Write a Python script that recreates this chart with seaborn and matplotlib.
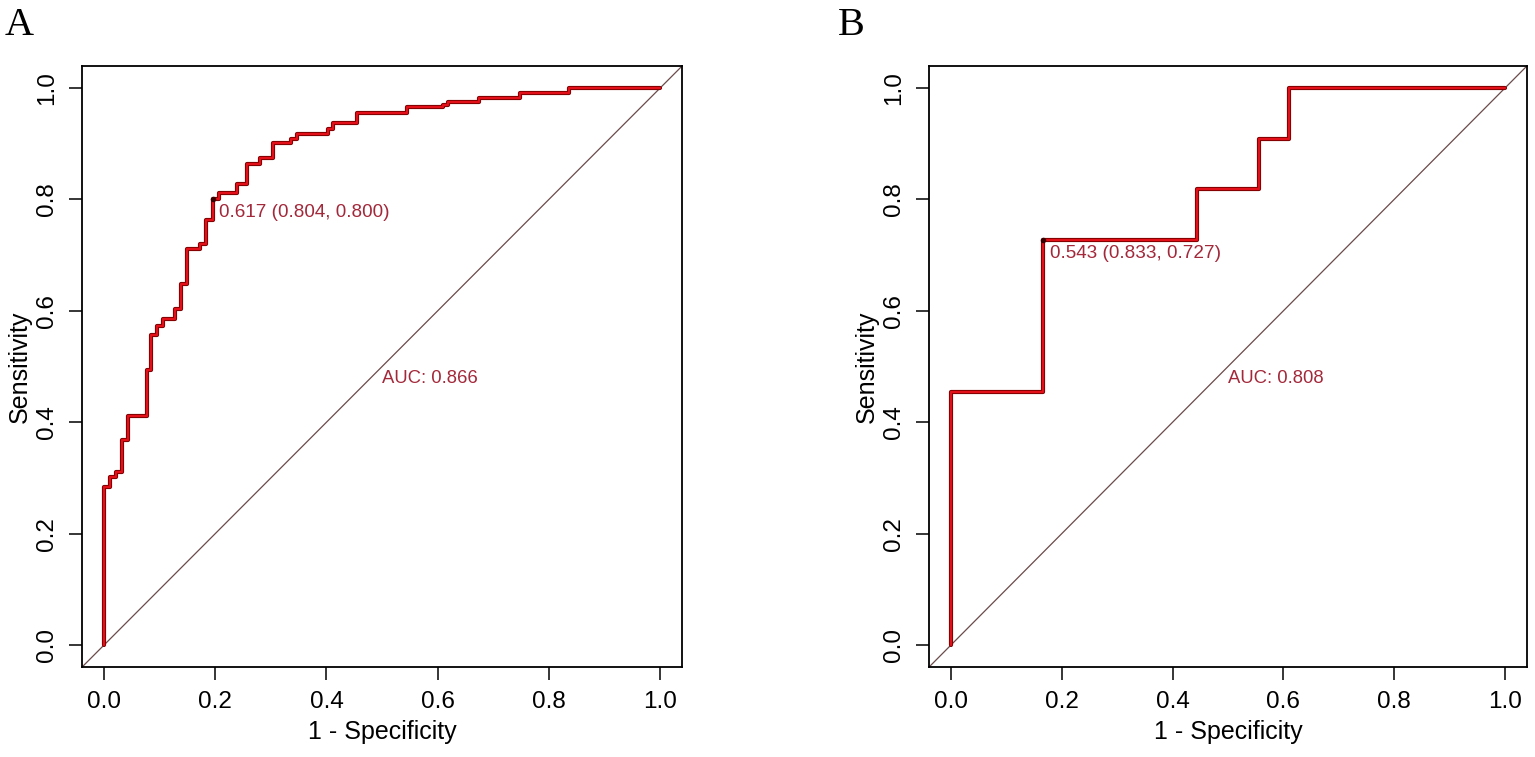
import matplotlib
matplotlib.use("Agg")
import matplotlib.pyplot as plt
import seaborn as sns
import pandas as pd

# =========================
# DATA
# =========================

# panel A: ROC staircase vertices (1 - specificity, sensitivity)
fpr_a = [0.0, 0.0, 0.010, 0.021, 0.032, 0.043, 0.077, 0.084, 0.095, 0.106,
         0.128, 0.139, 0.149, 0.173, 0.183, 0.196, 0.206, 0.239, 0.258, 0.280,
         0.303, 0.336, 0.347, 0.402, 0.411, 0.455, 0.544, 0.610, 0.619, 0.674,
         0.748, 0.836, 1.0]
tpr_a = [0.0, 0.283, 0.302, 0.310, 0.368, 0.411, 0.493, 0.557, 0.572, 0.585,
         0.603, 0.648, 0.711, 0.720, 0.764, 0.800, 0.811, 0.828, 0.863, 0.875,
         0.902, 0.908, 0.918, 0.926, 0.938, 0.955, 0.966, 0.970, 0.975, 0.983,
         0.992, 1.0, 1.0]
thr_a = (0.196, 0.800)
thr_label_a = "0.617 (0.804, 0.800)"
auc_label_a = "AUC: 0.866"

# panel B
fpr_b = [0.0, 0.0, 0.167, 0.444, 0.556, 0.611, 1.0]
tpr_b = [0.0, 0.455, 0.727, 0.818, 0.909, 1.0, 1.0]
thr_b = (0.167, 0.727)
thr_label_b = "0.543 (0.833, 0.727)"
auc_label_b = "AUC: 0.808"

ticks = [0.0, 0.2, 0.4, 0.6, 0.8, 1.0]
tick_labels = ["0.0", "0.2", "0.4", "0.6", "0.8", "1.0"]

# =========================
# STYLE
# =========================
sns.set_theme(style="white")
plt.rcParams['font.family'] = ['Liberation Sans', 'DejaVu Sans']

text_col = "#a3283a"
line_dark = "#7a0000"
line_red = "#e3101a"
diag_col = "#6b4a4a"

fig = plt.figure(figsize=(15.35, 7.57), dpi=100)
W, H = 1535, 757
axA = fig.add_axes([81.8 / W, 89.7 / H, 600.5 / W, 601.5 / H])
axB = fig.add_axes([928.8 / W, 89.7 / H, 598.3 / W, 601.5 / H])


def roc_panel(ax, fpr, tpr, thr, thr_label, auc_label):
    df = pd.DataFrame({"fpr": fpr, "tpr": tpr})
    ax.axline((0, 0), (1, 1), color=diag_col, lw=0.9, zorder=1)
    # dark underlay then red line on top
    sns.lineplot(data=df, x="fpr", y="tpr", sort=False, estimator=None,
                 drawstyle="steps-post", color=line_dark, lw=3.0, ax=ax, zorder=2)
    sns.lineplot(data=df, x="fpr", y="tpr", sort=False, estimator=None,
                 drawstyle="steps-post", color=line_red, lw=1.6, ax=ax, zorder=3)
    ax.plot([thr[0]], [thr[1]], "o", ms=3.0, color="#3a0000", zorder=4)
    ax.text(thr[0] + 0.011, thr[1] - 0.024, thr_label, ha="left", va="center",
            color=text_col, fontsize=13.6)
    ax.text(0.5, 0.479, auc_label, ha="left", va="center",
            color=text_col, fontsize=13.3)

    ax.set_xlim(-0.04, 1.04)
    ax.set_ylim(-0.04, 1.04)
    ax.set_xticks(ticks)
    ax.set_xticklabels(tick_labels)
    ax.set_yticks(ticks)
    ax.set_yticklabels(tick_labels, rotation=90, va="center")
    ax.tick_params(axis="both", direction="out", length=9.4, width=1.1,
                   color="black", labelsize=17.5, labelcolor="black",
                   bottom=True, left=True)
    ax.tick_params(axis="x", pad=7.5)
    ax.tick_params(axis="y", pad=8)
    for s in ax.spines.values():
        s.set_visible(True)
        s.set_color("black")
        s.set_linewidth(1.3)
    ax.set_xlabel("1 - Specificity", fontsize=18, color="black", labelpad=5)
    ax.set_ylabel("Sensitivity", fontsize=18, color="black", labelpad=3)
    ax.grid(False)


roc_panel(axA, fpr_a, tpr_a, thr_a, thr_label_a, auc_label_a)
roc_panel(axB, fpr_b, tpr_b, thr_b, thr_label_b, auc_label_b)

fig.text(5 / W, 1 - 35 / H, "A", family="Liberation Serif", fontsize=29,
         va="baseline", ha="left", color="black")
fig.text(838 / W, 1 - 35 / H, "B", family="Liberation Serif", fontsize=29,
         va="baseline", ha="left", color="black")

fig.savefig("out.png", dpi=100, facecolor="white")
